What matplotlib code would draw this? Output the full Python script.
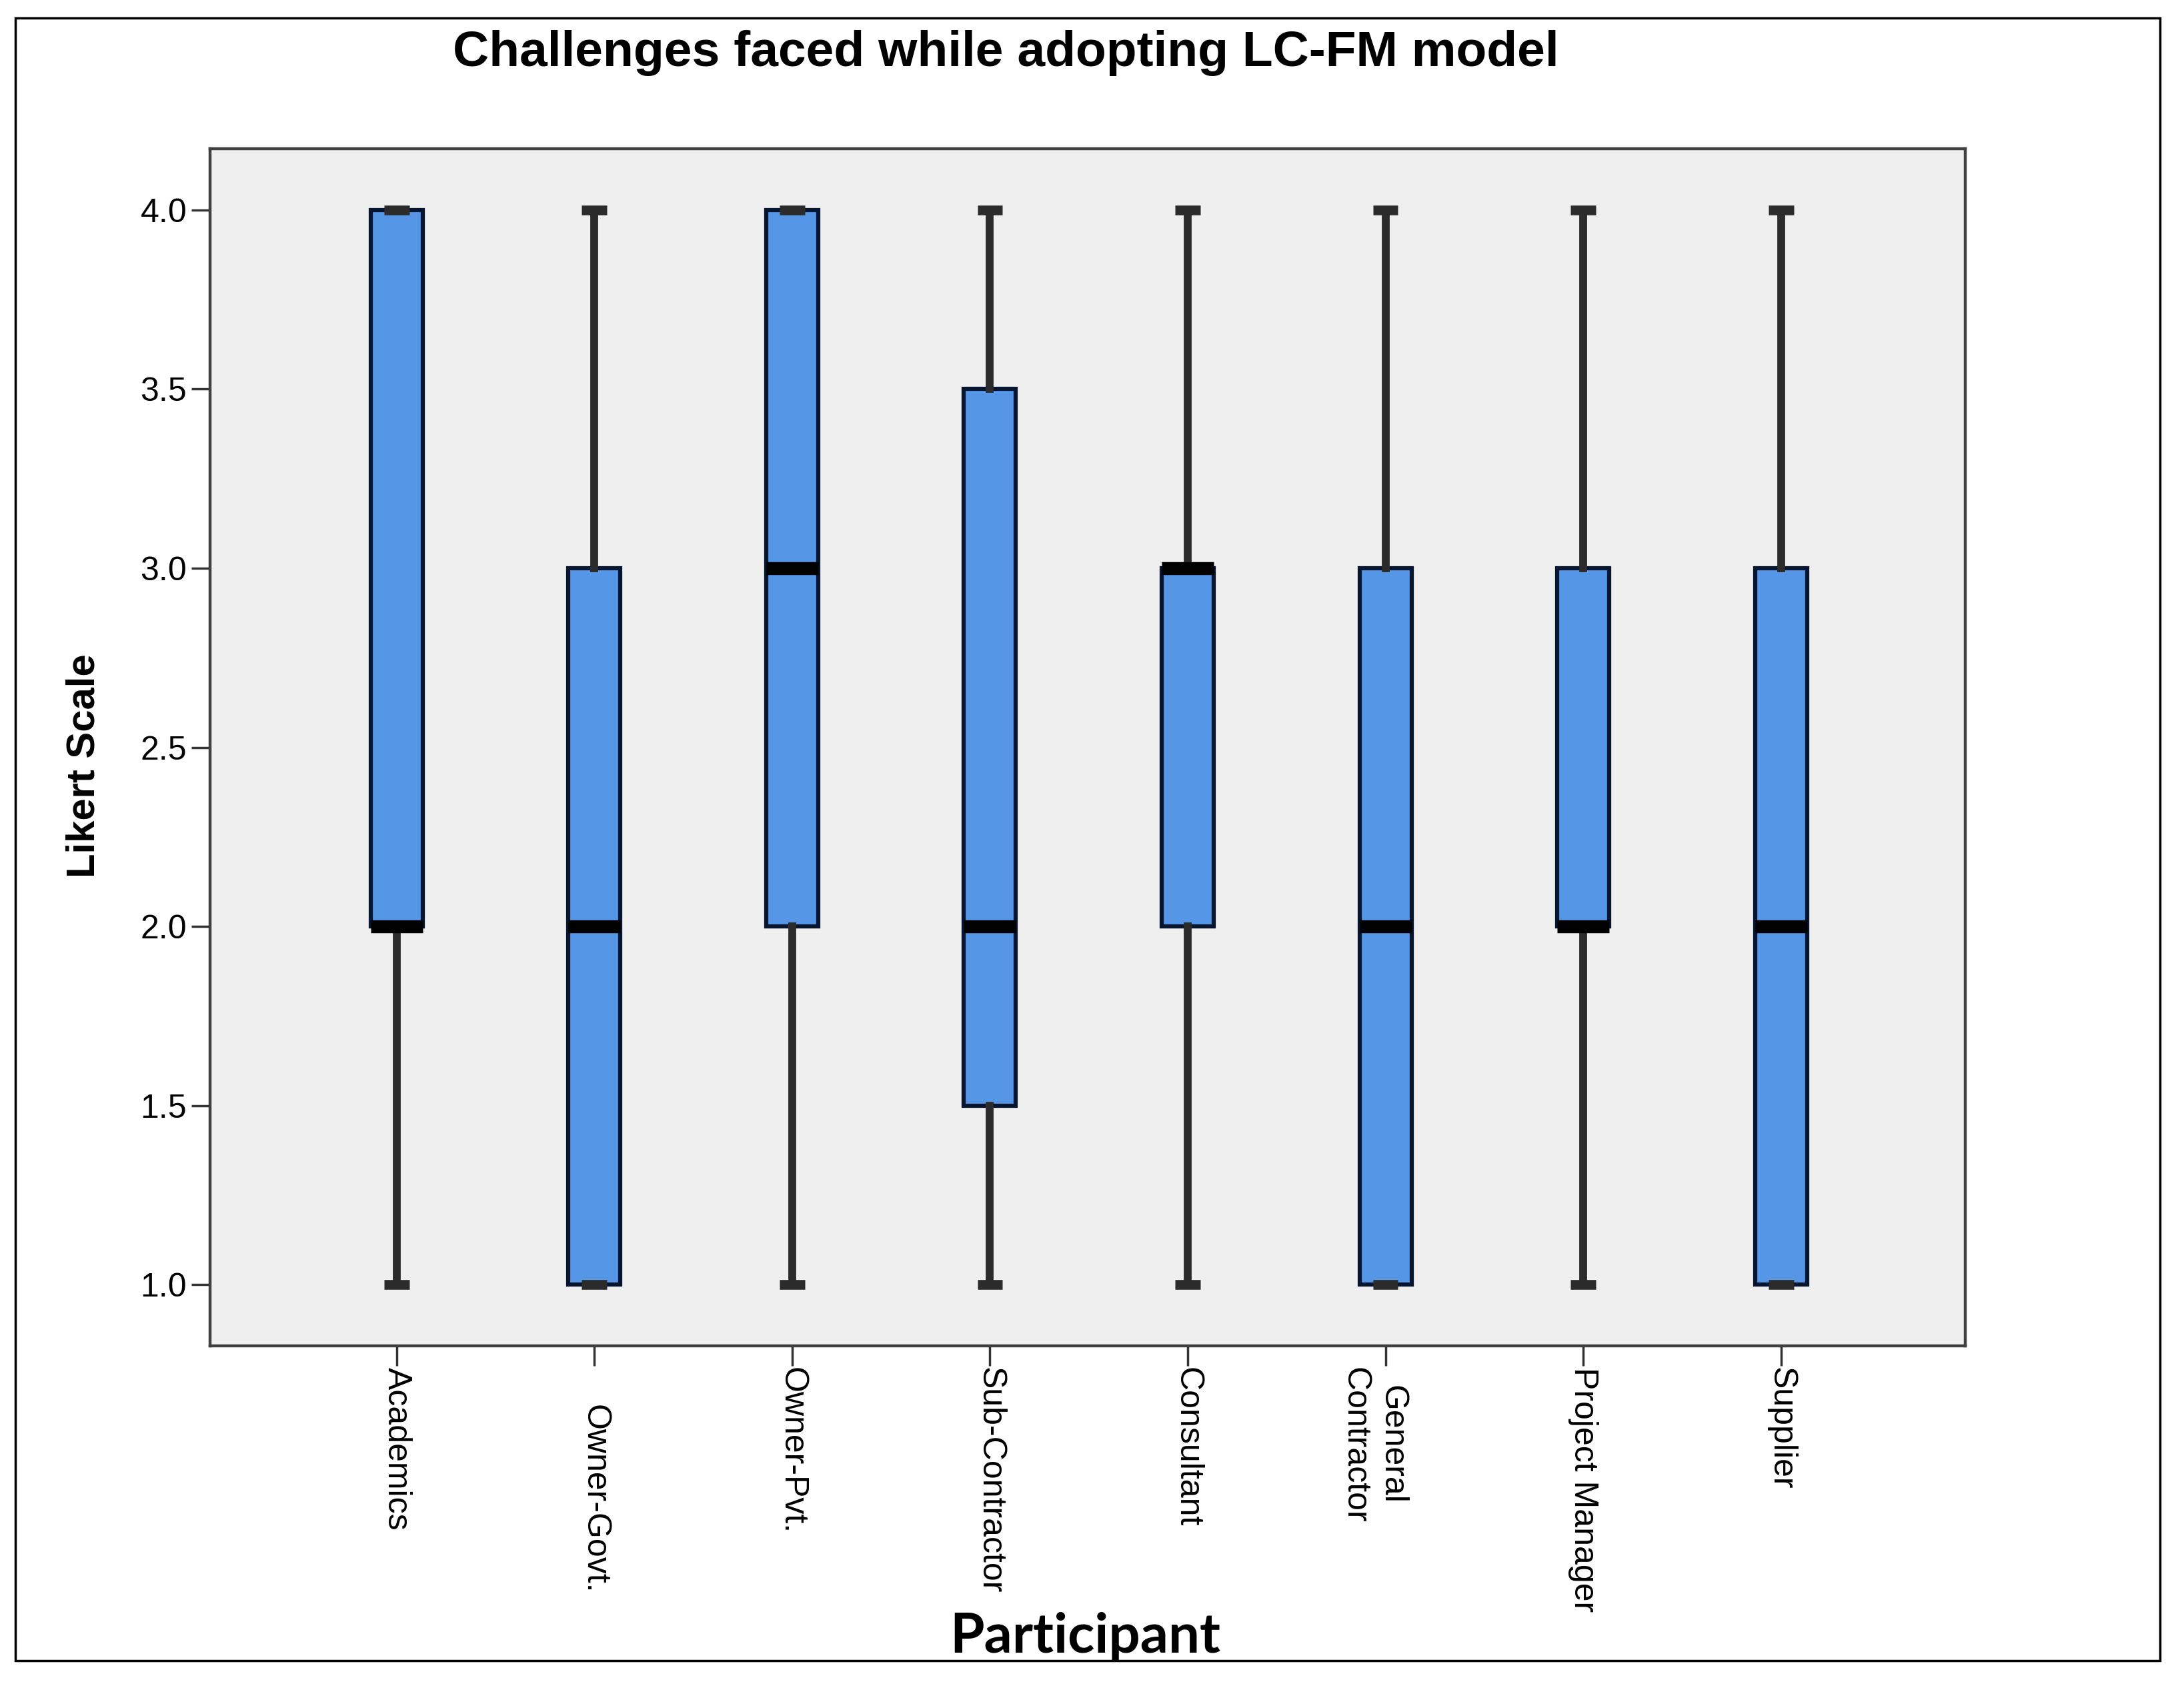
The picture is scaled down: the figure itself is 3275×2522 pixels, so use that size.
import matplotlib
matplotlib.use("Agg")
import matplotlib.pyplot as plt
from matplotlib import font_manager
from matplotlib.patches import Rectangle

# box summary values (Likert scale 1-4)
participants = ['Academics', 'Owner-Govt.', 'Owner-Pvt.', 'Sub-Contractor',
                'Consultant', 'General\nContractor', 'Project Manager', 'Supplier']
mins = [1, 1, 1, 1, 1, 1, 1, 1]
q1s = [2, 1, 2, 1.5, 2, 1, 2, 1]
medians = [2, 2, 3, 2, 3, 2, 2, 2]
q3s = [4, 3, 4, 3.5, 3, 3, 3, 3]
maxs = [4, 4, 4, 4, 4, 4, 4, 4]
yticks = [1.0, 1.5, 2.0, 2.5, 3.0, 3.5, 4.0]

installed = {f.name for f in font_manager.fontManager.ttflist}
if 'Liberation Sans Narrow' in installed:
    ylab_font, ylab_size = 'Liberation Sans Narrow', 54
else:
    ylab_font, ylab_size = 'Liberation Sans', 43

plt.rcParams['font.family'] = ['Liberation Sans', 'DejaVu Sans']

fig = plt.figure(figsize=(32.75, 25.22), dpi=100)
ax = fig.add_axes([0.0962, 0.2, 0.8037, 0.7116])
ax.set_facecolor('#efefef')

stats = []
for i in range(len(participants)):
    stats.append({'whislo': mins[i], 'q1': q1s[i], 'med': medians[i],
                  'q3': q3s[i], 'whishi': maxs[i], 'fliers': []})

pos = list(range(len(participants)))
ax.bxp(stats, positions=pos, widths=0.263, capwidths=0.128, patch_artist=True,
       showfliers=False,
       boxprops=dict(facecolor='#5596e6', edgecolor='#071630', linewidth=4.5),
       medianprops=dict(color='black', linewidth=14, solid_capstyle='butt'),
       whiskerprops=dict(color='#2b2b2b', linewidth=8.5),
       capprops=dict(color='#2b2b2b', linewidth=10.5, solid_capstyle='butt'))

ax.set_xlim(-0.944, 7.933)
ax.set_ylim(0.83, 4.171)
ax.set_yticks(yticks)
ax.set_yticklabels(['%.1f' % v for v in yticks])
ax.set_xticks(pos)
ax.set_xticklabels([''] * len(pos))

ax.tick_params(axis='y', length=20, width=2.5, color='#333333', pad=5, labelsize=36)
ax.tick_params(axis='x', length=21.6, width=2.5, color='#333333')
for sp in ax.spines.values():
    sp.set_color('#404040')
    sp.set_linewidth(3.2)

# rotated category labels hung below each tick
drop = {'Owner-Govt.': 64}
shift = {'General\nContractor': -13}
for i, lab in enumerate(participants):
    ax.annotate(lab, xy=(i, 0), xycoords=('data', 'axes fraction'),
                xytext=(shift.get(lab, 0), -drop.get(lab, 23)), textcoords='offset points',
                rotation=-90, ha='center', va='top', multialignment='center',
                linespacing=1.3, fontsize=36)

fig.text(0.4605, 0.9607, 'Challenges faced while adopting LC-FM model',
         ha='center', va='baseline', fontsize=54, fontweight='bold')
fig.text(0.0385, 0.5448, 'Likert Scale', rotation=90, ha='center', va='center',
         fontsize=ylab_size, fontweight='bold', family=[ylab_font, 'DejaVu Sans'])
fig.text(0.4968, 0.0175, 'Participant', ha='center', va='baseline',
         fontsize=60, fontweight='bold', family=['Lato', 'DejaVu Sans'])

# outer frame around the whole picture
fig.add_artist(Rectangle((0.007, 0.0127), 0.982, 0.9766, transform=fig.transFigure,
                         fill=False, edgecolor='black', linewidth=2.5))

fig.savefig('out.png', dpi=100, facecolor='white')
